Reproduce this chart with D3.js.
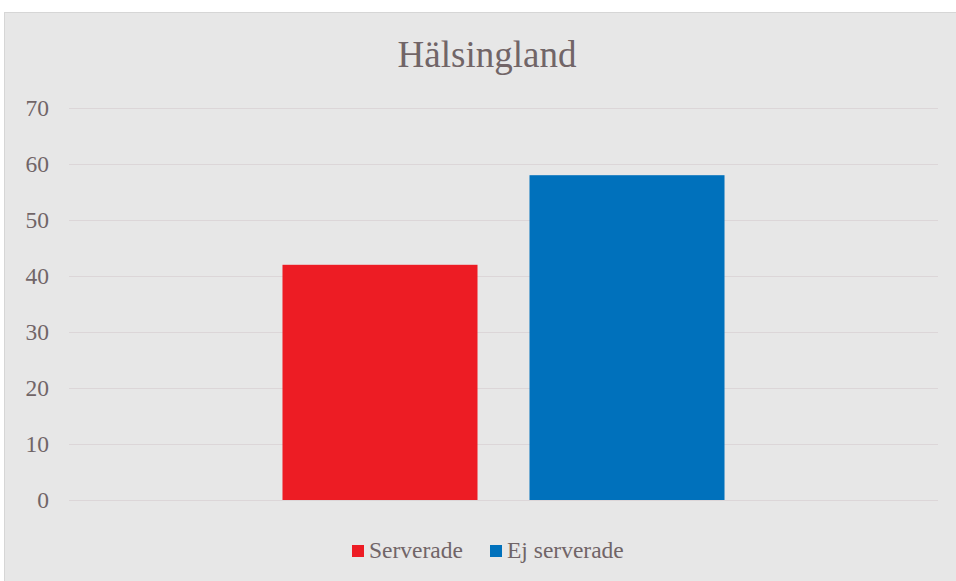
<!DOCTYPE html>
<html><head><meta charset="utf-8">
<script src="https://cdn.jsdelivr.net/npm/d3@7"></script>
<style>html,body{margin:0;padding:0;background:#fff;}</style>
</head><body>
<svg id="c" width="956" height="581"></svg>
<script>
const title = "Hälsingland";
const seriesNames = ["Serverade", "Ej serverade"];
const seriesValues = [42, 58];
const seriesColors = ["#ed1c24", "#0071bc"];
const yTicks = [0, 10, 20, 30, 40, 50, 60, 70];

(function () {
const svg = d3.select("#c");
const textColor = "#716567";
const font = "'Liberation Serif','Times New Roman',serif";

svg.append("rect").attr("x", 4.5).attr("y", 12.5).attr("width", 960).attr("height", 580)
  .attr("fill", "#e7e7e7").attr("stroke", "#d6d6d6");

const pl = 69, pr = 938, pt = 108, pb = 500;
const y = d3.scaleLinear().domain([0, 70]).range([pb, pt]);
const x0 = d3.scaleBand().domain(["c"]).range([pl, pr]).paddingInner(0).paddingOuter(0.483);
const x1 = d3.scaleBand().domain(seriesNames).range([0, x0.bandwidth()]).paddingInner(0.2105);

const yAxis = d3.axisLeft(y).tickValues(yTicks).tickSize(-(pr - pl)).tickPadding(20);
const g = svg.append("g").attr("transform", `translate(${pl},0)`).call(yAxis);
g.select(".domain").remove();
g.selectAll(".tick line").attr("stroke", "#dcd6d8").attr("stroke-width", 1.2);
g.selectAll(".tick text").attr("fill", textColor).attr("font-family", font).attr("font-size", 23.5);

svg.append("g").selectAll("rect").data(seriesNames).join("rect")
  .attr("x", d => x0("c") + x1(d))
  .attr("width", x1.bandwidth())
  .attr("y", (d, i) => y(seriesValues[i]))
  .attr("height", (d, i) => y(0) - y(seriesValues[i]))
  .attr("fill", (d, i) => seriesColors[i]);

svg.append("text").attr("x", 487).attr("y", 67).attr("text-anchor", "middle")
  .attr("fill", textColor).attr("font-family", font).attr("font-size", 37).text(title);

const legendX = [352, 490];
const lg = svg.append("g");
seriesNames.forEach((n, i) => {
  lg.append("rect").attr("x", legendX[i]).attr("y", 545).attr("width", 12).attr("height", 12).attr("fill", seriesColors[i]);
  lg.append("text").attr("x", legendX[i] + 17).attr("y", 558).attr("fill", textColor)
    .attr("font-family", font).attr("font-size", 23.5).text(n);
});
})();
</script>
</body></html>
